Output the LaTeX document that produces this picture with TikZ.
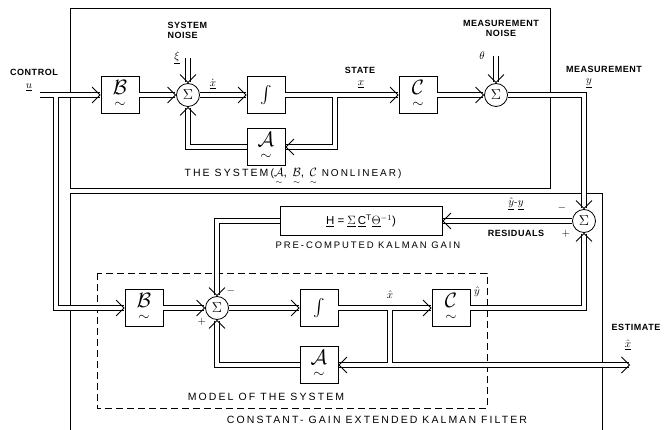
\documentclass[tikz,border=0pt]{standalone}
\usepackage{amsmath}
\usepackage{fontspec}
\setsansfont{Liberation Sans}
\newfontfamily\lblfont[LetterSpace=6]{Liberation Sans}
\newfontfamily\capfont[LetterSpace=20]{Liberation Sans}
\usetikzlibrary{arrows.meta,positioning,calc}

\newcommand{\vsym}[1]{\underset{\sim}{#1}}

\begin{document}
\begin{tikzpicture}[x=1pt, y=-1pt,
  every node/.style={font=\lblfont\bfseries\fontsize{9}{10}\selectfont},
  block/.style={draw, thick, minimum width=38pt, minimum height=37pt, inner sep=0pt, font=\huge},
  summer/.style={draw, thick, circle, minimum size=23pt, inner sep=0pt, font=\Large},
  sym/.style={font=\fontsize{11}{12}\selectfont},
  pipe/.style={double, double distance=4.6pt, line width=0.8pt},
  sig/.style={pipe, -{Straight Barb[length=8pt, width=16pt]}},
  gap/.style={white, line width=4.6pt},
  captext/.style={font=\capfont\fontsize{10.5}{11}\selectfont}]

\useasboundingbox (0,0) rectangle (667,430);

% =========================
% THE SYSTEM
% =========================
\draw[thick] (70,8) rectangle (550,188);

% Blocks
\node[block] (B1) at (120,95) {$\vsym{\mathcal{B}}$};
\node[summer] (S1) at (188,95) {$\Sigma$};
\node[block, font=\LARGE] (I1) at (266,95) {$\int$};
\node[block] (A1) at (266,147) {$\vsym{\mathcal{A}}$};
\node[block] (C1) at (418,95) {$\vsym{\mathcal{C}}$};
\node[summer] (S2) at (496,95) {$\Sigma$};

% Free ends and branch points
\coordinate (ctrl) at (40,95);
\coordinate (J1) at (56,95);
\coordinate (J2) at (335,95);
\coordinate (xi) at (188,58);
\coordinate (th) at (496,56);

% Signal flow
\draw[sig] (B1) -- (S1);
\draw[sig] (xi) -- (S1);
\draw[sig] (S1) -- (I1);
\draw[sig] (J2) |- (A1);
\draw[sig] (I1) -- (C1);
\draw[gap] (J2) -- ++(0,6);
\draw[sig] (A1) -| (S1);
\draw[sig] (C1) -- (S2);
\draw[sig] (th) -- (S2);

% Labels
\node (ctrlLbl) at (34,72) {CONTROL};
\node[sym] (uLbl) at (29,87) {$\underline{u}$};
\node[anchor=west, align=left] (snoise) at (164,30) {SYSTEM\\NOISE};
\node[sym] (xiLbl) at (177,58) {$\underline{\xi}$};
\node[sym] (xdot) at (213,84) {$\dot{\underline{x}}$};
\node (stateLbl) at (360,70) {STATE};
\node[sym] (xLbl) at (361,84) {$\underline{x}$};
\node[align=center] (mnoise) at (501,28) {MEASUREMENT\\NOISE};
\node[sym] (thLbl) at (482,56) {$\theta$};
\node (measLbl) at (604,69) {MEASUREMENT};
\node[sym] (yLbl) at (589,83) {$\underline{y}$};
\node[captext] (sysLbl) at (293,177) {THE SYSTEM(\large$\vsym{\mathcal{A}}$, $\vsym{\mathcal{B}}$, $\vsym{\mathcal{C}}$\normalsize\ NONLINEAR)};

% =========================
% KALMAN FILTER
% =========================
\draw[thick] (70,430) |- (602,193) -- (602,430);
\draw[thick, dash pattern=on 7pt off 4pt] (97,273) rectangle (487,408);

% Blocks
\node[summer] (S3) at (584,221) {$\Sigma$};
\node[draw, thick, minimum width=162pt, minimum height=29pt, font=\sffamily\fontsize{11.5}{13}\selectfont] (H) at (361,221)
  {\underline{H} = $\underline{\Sigma}$\,\underline{C}$^{\mathsf{T}}$$\underline{\Theta}$$^{-1}$)};
\node[block] (B2) at (144,308) {$\vsym{\mathcal{B}}$};
\node[summer] (S4) at (217,308) {$\Sigma$};
\node[block, font=\LARGE] (I2) at (319,308) {$\int$};
\node[block] (A2) at (319,365) {$\vsym{\mathcal{A}}$};
\node[block] (C2) at (451,308) {$\vsym{\mathcal{C}}$};

% Free ends and branch points
\coordinate (J3) at (390,308);
\coordinate (J4) at (390,365);
\coordinate (est) at (630,365);

% Control input (branch first, then main line)
\draw[sig] (J1) |- (B2);
\draw[sig] (ctrl) -- (B1);
\draw[gap] (J1) -- ++(0,6);

% Measurement into residual
\draw[sig] (S2) -| (S3);

% Signal flow
\draw[sig] (S3) -- (H);
\draw[sig] (H) -| (S4);
\draw[sig] (B2) -- (S4);
\draw[sig] (S4) -- (I2);
\draw[pipe] (J3) -- (J4);
\draw[sig] (I2) -- (C2);
\draw[sig] (A2) -| (S4);
\draw[sig, {Straight Barb[length=8pt, width=16pt]}-{Straight Barb[length=8pt, width=16pt]}] (A2) -- (est);
\draw[sig] (C2) -| (S3);
\draw[gap] (J3) -- (J4);

% Labels
\node[sym] (resLbl) at (516,204) {$\hat{\underline{y}}$-$\underline{y}$};
\node (resTxt) at (516,233) {RESIDUALS};
\node[sym] (m3) at (562,208) {$-$};
\node[sym] (p3) at (566,234) {$+$};
\node[font=\capfont\fontsize{9.5}{10}\selectfont] (gainLbl) at (368,245) {PRE-COMPUTED KALMAN GAIN};
\node[sym] (m4) at (231,291) {$-$};
\node[sym] (p4) at (202,322) {$+$};
\node[sym] (xhat) at (390,295) {$\hat{x}$};
\node[sym] (yhat) at (477,292) {$\hat{y}$};
\node (estLbl) at (636,327) {ESTIMATE};
\node[sym] (xhatLbl) at (628,345) {$\hat{\underline{x}}$};
\node[captext] (modelLbl) at (266,397) {MODEL OF THE SYSTEM};
\node[captext] (kfLbl) at (377,420) {CONSTANT- GAIN EXTENDED KALMAN FILTER};

\end{tikzpicture}
\end{document}
